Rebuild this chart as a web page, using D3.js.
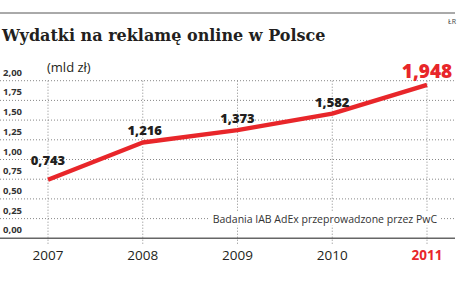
<!DOCTYPE html>
<html lang="pl">
<head>
	<meta charset="utf-8">
	<title>Wydatki na reklamę online</title>
	<script src="https://d3js.org/d3.v7.min.js"></script>
	<style>
		body { margin: 0; background: #fff; }
		text { font-family: "Open Sans", Lato, sans-serif; }
	</style>
</head>
<body>
<script>
	// data
	var years = ["2007", "2008", "2009", "2010", "2011"];
	var values = [0.743, 1.216, 1.373, 1.582, 1.948];
	var valueLabels = ["0,743", "1,216", "1,373", "1,582", "1,948"];
	var yTicks = [0, 0.25, 0.5, 0.75, 1, 1.25, 1.5, 1.75, 2];

	var w = 470, h = 282;
	var red = "#e8262a", ink = "#231f20", grid = "#888";

	var x = d3.scalePoint().domain(years).range([48, 427]);
	var y = d3.scaleLinear().domain([0, 2]).range([238.3, 80.7]);
	var fmt = function(d) { return d3.format(".2f")(d).replace(".", ","); };

	var svg = d3.select("body").append("svg")
		.attr("width", w).attr("height", h);

	// top rule + title
	svg.append("line").attr("x1", 0).attr("x2", 455).attr("y1", 13).attr("y2", 13)
		.attr("stroke", "#555").attr("stroke-width", 1);
	svg.append("text").attr("x", 456).attr("y", 24).attr("text-anchor", "end")
		.style("font-size", "7px").attr("fill", "#444").text("ŁR");
	svg.append("text").attr("x", 2).attr("y", 41)
		.style("font-family", "'DejaVu Serif', serif").style("font-weight", "bold")
		.style("font-size", "16px").attr("fill", ink)
		.text("Wydatki na reklamę online w Polsce");

	// unit
	svg.append("text").attr("x", 47).attr("y", 72)
		.style("font-size", "13px").attr("fill", ink).text("(mld zł)");

	// horizontal grid (dotted)
	svg.append("g").selectAll("line").data(yTicks.slice(1)).join("line")
		.attr("x1", 0).attr("x2", 455)
		.attr("y1", d => y(d)).attr("y2", d => y(d))
		.attr("stroke", grid).attr("stroke-width", 1).attr("stroke-dasharray", "1,2");

	// vertical grid (dotted)
	svg.append("g").selectAll("line").data(years).join("line")
		.attr("x1", d => x(d)).attr("x2", d => x(d))
		.attr("y1", y(2)).attr("y2", 244)
		.attr("stroke", grid).attr("stroke-width", 1).attr("stroke-dasharray", "1,2");

	// y tick labels
	svg.append("g").selectAll("text").data(yTicks).join("text")
		.attr("x", 3).attr("y", d => y(d) - 5)
		.style("font-size", "9.5px").style("font-weight", "bold")
		.attr("fill", "#333").text(fmt);

	// source note
	var note = svg.append("g");
	note.append("rect").attr("x", 210).attr("y", y(0.25) - 7).attr("width", 230).attr("height", 14).attr("fill", "#fff");
	note.append("text").attr("x", 437).attr("y", y(0.25) + 4).attr("text-anchor", "end")
		.style("font-size", "10.5px").attr("fill", "#333")
		.text("Badania IAB AdEx przeprowadzone przez PwC");

	// x axis baseline
	svg.append("line").attr("x1", 0).attr("x2", 455).attr("y1", y(0)).attr("y2", y(0))
		.attr("stroke", "#666").attr("stroke-width", 1.5);

	// year labels
	svg.append("g").selectAll("text").data(years).join("text")
		.attr("x", d => x(d)).attr("y", 260).attr("text-anchor", "middle")
		.style("font-size", "13.5px")
		.style("font-weight", (d, i) => i === years.length - 1 ? "bold" : "normal")
		.attr("fill", (d, i) => i === years.length - 1 ? red : ink)
		.text(d => d);

	// line
	var line = d3.line().x((d, i) => x(years[i])).y(d => y(d));
	svg.append("path").datum(values).attr("d", line)
		.attr("fill", "none").attr("stroke", red).attr("stroke-width", 4.5)
		.attr("stroke-linejoin", "round");

	// value labels
	svg.append("g").selectAll("text").data(values).join("text")
		.attr("x", (d, i) => x(years[i]) + (i === 1 ? 2 : 0))
		.attr("y", (d, i) => y(d) - (i === 0 ? 15 : 7))
		.attr("text-anchor", "middle")
		.style("font-weight", "800")
		.style("font-size", (d, i) => i === values.length - 1 ? "19px" : "13px")
		.attr("fill", (d, i) => i === values.length - 1 ? red : ink)
		.text((d, i) => valueLabels[i]);
</script>
</body>
</html>
